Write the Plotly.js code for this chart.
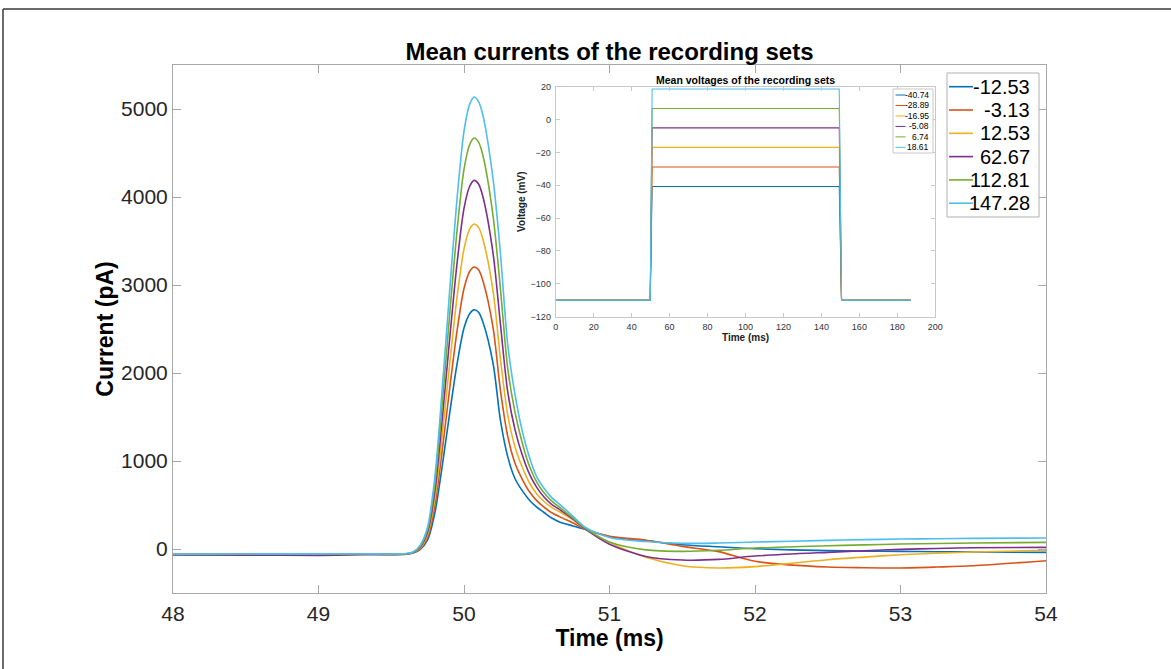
<!DOCTYPE html>
<html>
<head>
<meta charset="utf-8">
<script src="https://cdn.plot.ly/plotly-3.0.1.min.js"></script>
<style>html,body{margin:0;padding:0;background:#fff;}#chart{width:1171px;height:669px;}</style>
</head>
<body>
<div id="chart"></div>
<script>
// ---- Main chart data: mean currents (pA) vs time (ms) ----
const timeMs = [48, 48.5, 49, 49.3, 49.5, 49.6, 49.65, 49.7, 49.75, 49.8, 49.85, 49.9, 49.95, 50.0, 50.04, 50.07, 50.1, 50.13, 50.2, 50.25, 50.3, 50.35, 50.4, 50.45, 50.5, 50.55, 50.6, 50.66, 50.75, 50.83, 51.0, 51.25, 51.5, 51.75, 52.0, 52.5, 52.75, 53.0, 53.25, 53.5, 54.0];
const currentNames = ["-12.53", "-3.13", "12.53", "62.67", "112.81", "147.28"];
const curBlue   = [-62, -60, -58, -57, -60, -56, -46, -4, 107, 412, 940, 1524, 2080, 2511, 2677, 2719, 2691, 2580, 2108, 1468, 1052, 801, 663, 555, 475, 415, 355, 305, 262, 224, 140, 95, 49, 25, 3, -19, -24, -27, -31, -34, -38];
const curOrange = [-60, -62, -60, -58, -62, -56, -44, 5, 136, 495, 1115, 1801, 2454, 2960, 3156, 3205, 3172, 3048, 2513, 1808, 1285, 978, 795, 650, 550, 475, 415, 365, 295, 228, 145, 100, 30, -30, -140, -205, -213, -216, -205, -190, -133];
const curYellow = [-64, -60, -62, -60, -60, -58, -41, 15, 165, 578, 1291, 2079, 2830, 3411, 3637, 3693, 3655, 3520, 2927, 2169, 1531, 1163, 931, 750, 625, 540, 475, 420, 330, 230, 75, -95, -190, -216, -200, -122, -92, -65, -48, -34, -15];
const curPurple = [-68, -70, -72, -66, -64, -60, -39, 25, 195, 662, 1470, 2362, 3212, 3870, 4125, 4189, 4147, 4002, 3356, 2562, 1793, 1359, 1070, 850, 700, 590, 510, 445, 340, 232, 55, -85, -125, -118, -80, -38, -20, -4, 6, 15, 19];
const curGreen  = [-62, -58, -60, -56, -58, -55, -36, 35, 224, 744, 1643, 2636, 3582, 4315, 4599, 4670, 4623, 4471, 3781, 2962, 2059, 1558, 1208, 940, 760, 640, 550, 470, 350, 240, 80, -10, -27, -15, 11, 37, 47, 56, 62, 68, 75];
const curLight  = [-58, -56, -55, -54, -56, -52, -34, 44, 252, 823, 1811, 2902, 3941, 4746, 5058, 5136, 5084, 4928, 4201, 3369, 2330, 1759, 1343, 1040, 820, 690, 590, 505, 370, 250, 130, 85, 64, 68, 79, 98, 106, 113, 117, 121, 125];

// ---- Inset data: mean voltages (mV) vs time (ms) ----
const vTimeMs = [0, 49.8, 50.8, 149.4, 150.6, 187];
const voltageNames = ["-40.74", "-28.89", "-16.95", "-5.08", "6.74", "18.61"];
const volt1 = [-110, -110, -40.74, -40.74, -110, -110];
const volt2 = [-110, -110, -28.89, -28.89, -110, -110];
const volt3 = [-110, -110, -16.95, -16.95, -110, -110];
const volt4 = [-110, -110, -5.08, -5.08, -110, -110];
const volt5 = [-110, -110, 6.74, 6.74, -110, -110];
const volt6 = [-110, -110, 18.61, 18.61, -110, -110];

const colors = ["#0072BD", "#D95319", "#EDB120", "#7E2F8E", "#77AC30", "#4DBEEE"];
const currents = [curBlue, curOrange, curYellow, curPurple, curGreen, curLight];
const voltages = [volt1, volt2, volt3, volt4, volt5, volt6];

const FONT = "Liberation Sans, Arial, Helvetica, sans-serif";
const traces = [];
currents.forEach((ys, i) => {
  traces.push({
    x: timeMs, y: ys, type: "scatter", mode: "lines", name: currentNames[i],
    line: {color: colors[i], width: 1.6, shape: "spline", smoothing: 0.8},
    xaxis: "x", yaxis: "y", showlegend: false
  });
});
voltages.forEach((ys, i) => {
  traces.push({
    x: vTimeMs, y: ys, type: "scatter", mode: "lines", name: voltageNames[i],
    line: {color: colors[i], width: 1.1},
    xaxis: "x2", yaxis: "y2", showlegend: false
  });
});

// plot area geometry (pixels) -> paper fractions
const L = 173, R = 1046, T = 65, B = 593;
const PW = R - L, PH = B - T;
const px = v => (v - L) / PW;
const py = v => (B - v) / PH;

const axisCommon = {
  showline: true, linecolor: "#a8a8a8", linewidth: 1, mirror: "ticks",
  ticks: "inside", tickcolor: "#a8a8a8", showgrid: false, zeroline: false,
  tickfont: {family: FONT, size: 21, color: "#262626"}
};

// legend boxes drawn as shapes + annotations
const shapes = [
  {type: "line", xref: "paper", yref: "paper", x0: px(3), x1: px(1171), y0: py(9), y1: py(9), line: {color: "#3a3a3a", width: 1.5}},
  {type: "line", xref: "paper", yref: "paper", x0: px(3), x1: px(3), y0: py(9), y1: py(669), line: {color: "#3a3a3a", width: 1.5}}
];
const annotations = [{
  text: "Mean voltages of the recording sets", showarrow: false,
  xref: "paper", yref: "paper", x: (px(555.7) + px(935.3)) / 2, y: py(80), xanchor: "center", yanchor: "middle",
  font: {family: FONT, size: 10.5, color: "#000", weight: "bold"}
}];

function addLegend(names, box, row0, rowStep, lineX0, lineX1, textRight, fontSize, lineW, borderColor) {
  shapes.push({type: "rect", xref: "paper", yref: "paper",
    x0: px(box[0]), x1: px(box[1]), y0: py(box[2]), y1: py(box[3]),
    fillcolor: "#fff", line: {color: borderColor, width: 1}, layer: "above"});
  names.forEach((nm, i) => {
    const yy = row0 + i * rowStep;
    shapes.push({type: "line", xref: "paper", yref: "paper",
      x0: px(lineX0), x1: px(lineX1), y0: py(yy), y1: py(yy),
      line: {color: colors[i], width: lineW}, layer: "above"});
    annotations.push({text: nm, showarrow: false, xref: "paper", yref: "paper",
      x: px(textRight), y: py(yy), xanchor: "right", yanchor: "middle",
      font: {family: FONT, size: fontSize, color: "#000"}});
  });
}
addLegend(currentNames, [947, 1039, 73, 217], 86.7, 23.3, 949, 973, 1032, 20, 1.6, "#b0b0b0");
addLegend(voltageNames, [893, 933, 89, 153], 95, 10.47, 895.5, 905.5, 931, 8.5, 1, "#c8c8c8");

const layout = {
  width: 1171, height: 669,
  margin: {l: L, r: 1171 - R, t: T, b: 669 - B, pad: 0},
  paper_bgcolor: "#fff", plot_bgcolor: "#fff",
  showlegend: false,
  title: {text: "Mean currents of the recording sets", font: {family: FONT, size: 24, color: "#000", weight: "bold"},
          xref: "paper", x: 0.5, xanchor: "center", yref: "container", y: 1 - 52 / 669, yanchor: "middle"},
  xaxis: Object.assign({}, axisCommon, {
    domain: [0, 1], range: [48, 54], tickvals: [48, 49, 50, 51, 52, 53, 54], ticklen: 8,
    ticklabelstandoff: 2, anchor: "y",
    title: {text: "Time (ms)", font: {family: FONT, size: 23, color: "#000", weight: "bold"}, standoff: 0}
  }),
  yaxis: Object.assign({}, axisCommon, {
    domain: [0, 1], range: [-500, 5500], tickvals: [0, 1000, 2000, 3000, 4000, 5000], ticklen: 8,
    ticklabelstandoff: 0, anchor: "x",
    title: {text: "Current (pA)", font: {family: FONT, size: 23, color: "#000", weight: "bold"}, standoff: 1}
  }),
  xaxis2: Object.assign({}, axisCommon, {
    domain: [px(555.7), px(935.3)], range: [0, 200], dtick: 20, tick0: 0, ticklen: 4, anchor: "y2",
    linecolor: "#c8c8c8", tickcolor: "#c8c8c8",
    tickfont: {family: FONT, size: 9, color: "#333"}, ticklabelstandoff: 1,
    title: {text: "Time (ms)", font: {family: FONT, size: 10, color: "#222", weight: "bold"}, standoff: 1}
  }),
  yaxis2: Object.assign({}, axisCommon, {
    domain: [py(316.7), py(86.7)], range: [-120, 20], dtick: 20, tick0: 0, ticklen: 4, anchor: "x2",
    linecolor: "#c8c8c8", tickcolor: "#c8c8c8",
    tickfont: {family: FONT, size: 9, color: "#333"}, ticklabelstandoff: 2,
    title: {text: "Voltage (mV)", font: {family: FONT, size: 10, color: "#222", weight: "bold"}, standoff: 3}
  }),
  annotations: annotations,
  shapes: shapes
};

Plotly.newPlot("chart", traces, layout, {displayModeBar: false, staticPlot: true});
</script>
</body>
</html>
